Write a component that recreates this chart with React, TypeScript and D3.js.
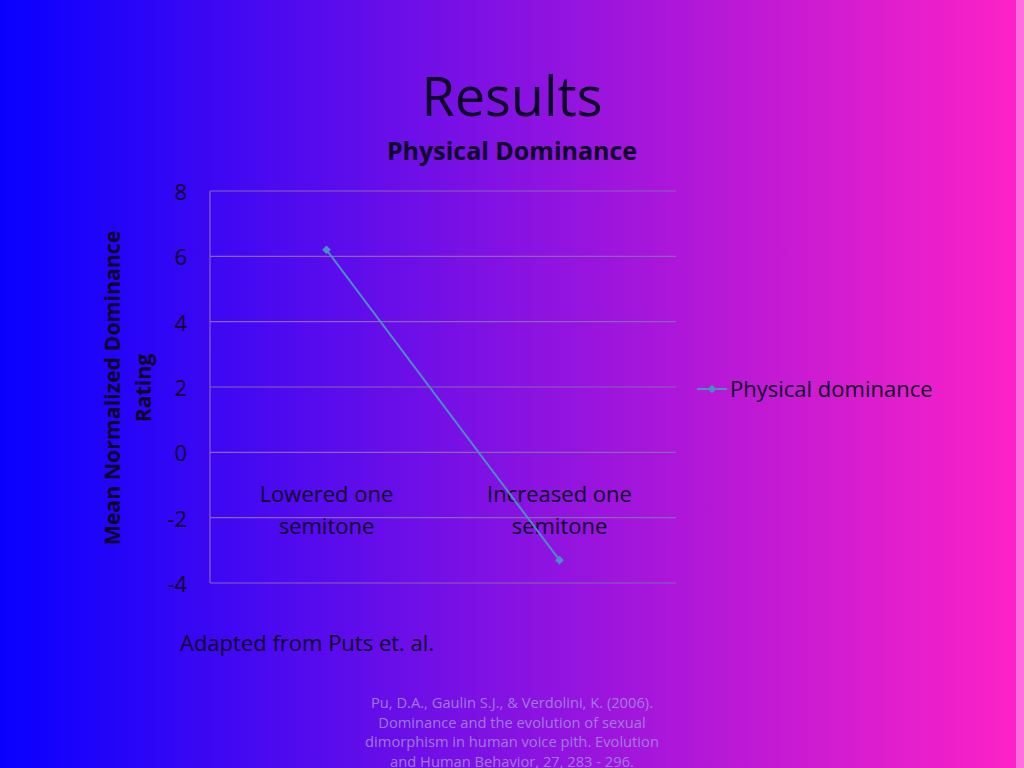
import React, { useEffect } from "react";
import { scaleLinear, scaleBand, line, symbol, symbolSquare } from "d3";

const categories = ["Lowered one semitone", "Increased one semitone"];
const categoryLines = [
  ["Lowered one", "semitone"],
  ["Increased one", "semitone"],
];
const physicalDominance = [6.2, -3.3];
const yTicks = [8, 6, 4, 2, 0, -2, -4];
const seriesName = "Physical dominance";
const citation = [
  "Pu, D.A., Gaulin S.J., & Verdolini, K. (2006).",
  "Dominance and the evolution of sexual",
  "dimorphism in human voice pith. Evolution",
  "and Human Behavior, 27, 283 - 296.",
];

const W = 1024;
const H = 768;
const FONT = "'Open Sans', 'DejaVu Sans', sans-serif";
const TEXT = "#0e0428";
const GRID = "#8a62b8";
const SERIES = "#4a8cc4";

const App: React.FC = () => {
  useEffect(() => {
    document.body.style.margin = "0";
  }, []);

  const x = scaleBand<string>().domain(categories).range([210, 676]);
  const y = scaleLinear().domain([-4, 8]).range([583, 191]);

  const pts = categories.map((c, i) => ({
    x: (x(c) ?? 0) + x.bandwidth() / 2,
    y: y(physicalDominance[i]),
  }));
  const path = line<{ x: number; y: number }>()
    .x((d) => d.x)
    .y((d) => d.y)(pts);
  // diamond marker: a square turned by 45 degrees
  const diamond = symbol().type(symbolSquare).size(38)() ?? "";

  return (
    <svg width={W} height={H} style={{ display: "block" }} fontFamily={FONT}>
      <defs>
        <linearGradient id="bg" x1="0" y1="0" x2="1" y2="0">
          <stop offset="0%" stopColor="#0800ff" />
          <stop offset="50%" stopColor="#8612e2" />
          <stop offset="100%" stopColor="#ff22c6" />
        </linearGradient>
      </defs>
      <rect width={W} height={H} fill="url(#bg)" />
      <rect x={1016} width={8} height={H} fill="#ffa0ee" opacity={0.6} />

      <text x={512} y={116} textAnchor="middle" fontSize={54} fill={TEXT}>
        Results
      </text>
      <text x={512} y={160} textAnchor="middle" fontSize={25} fontWeight="bold" fill={TEXT}>
        Physical Dominance
      </text>

      {yTicks.map((t) => (
        <g key={t}>
          <line x1={210} x2={676} y1={y(t)} y2={y(t)} stroke={GRID} strokeWidth={1.2} />
          <text x={187} y={y(t) + 9} textAnchor="end" fontSize={22} fill={TEXT}>
            {t}
          </text>
        </g>
      ))}
      <line x1={210} x2={210} y1={y(8)} y2={y(-4)} stroke={GRID} strokeWidth={1.2} />

      {categories.map((c, i) => (
        <text
          key={c}
          x={(x(c) ?? 0) + x.bandwidth() / 2}
          y={y(0) + 50}
          textAnchor="middle"
          fontSize={22}
          fill={TEXT}
        >
          {categoryLines[i].map((l, j) => (
            <tspan key={j} x={(x(c) ?? 0) + x.bandwidth() / 2} dy={j === 0 ? 0 : 32}>
              {l}
            </tspan>
          ))}
        </text>
      ))}

      <path d={path ?? ""} fill="none" stroke={SERIES} strokeWidth={2} />
      {pts.map((p, i) => (
        <path
          key={i}
          d={diamond}
          transform={`translate(${p.x},${p.y}) rotate(45)`}
          fill={SERIES}
        />
      ))}

      <g transform="translate(0,388) rotate(-90)" fontWeight="bold" fontSize={21.3} fill={TEXT}>
        <text x={0} y={120} textAnchor="middle">
          Mean Normalized Dominance
        </text>
        <text x={0} y={151} textAnchor="middle">
          Rating
        </text>
      </g>

      <line x1={697} x2={727} y1={389} y2={389} stroke={SERIES} strokeWidth={2} />
      <path d={diamond} transform="translate(712,389) rotate(45)" fill={SERIES} />
      <text x={730} y={397} fontSize={22} fill={TEXT}>
        {seriesName}
      </text>

      <text x={180} y={651} fontSize={22} fill={TEXT}>
        Adapted from Puts et. al.
      </text>

      {citation.map((l, i) => (
        <text
          key={i}
          x={512}
          y={708 + i * 19.7}
          textAnchor="middle"
          fontSize={14.7}
          fill="#a285e0"
          opacity={0.9}
        >
          {l}
        </text>
      ))}
    </svg>
  );
};

export default App;
